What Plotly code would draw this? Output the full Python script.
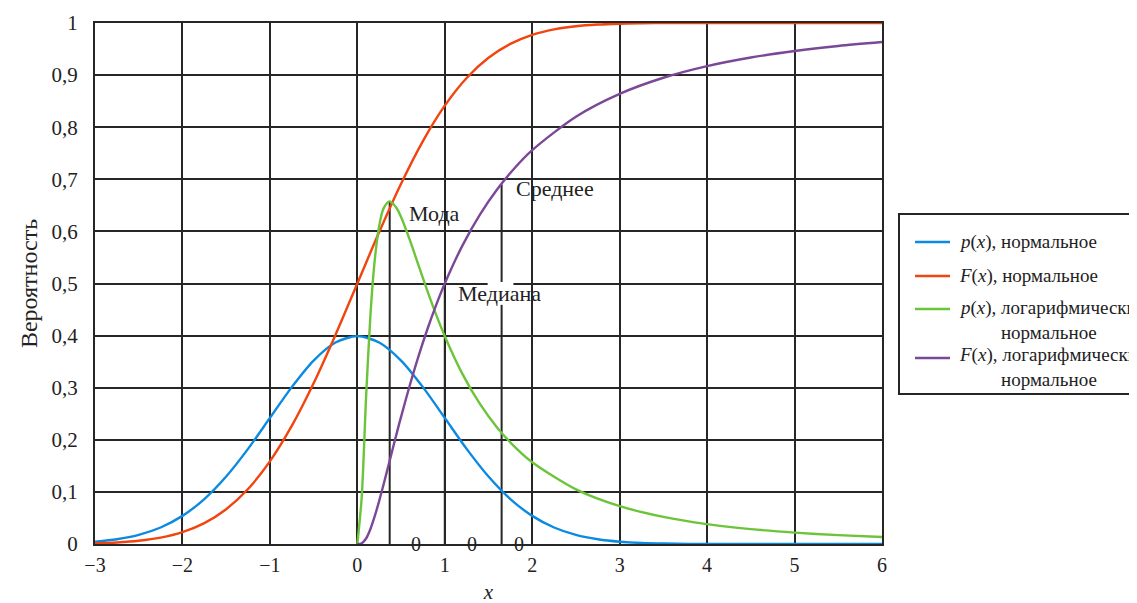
import plotly.graph_objects as go

# ---------- data ----------
norm_x = [-3, -2.75, -2.5, -2.25, -2, -1.75, -1.5, -1.25, -1, -0.75, -0.5, -0.25, 0,
          0.25, 0.5, 0.75, 1, 1.25, 1.5, 1.75, 2, 2.25, 2.5, 2.75, 3, 3.25, 3.5, 4, 5, 6]
norm_pdf = [0.0044, 0.0091, 0.0175, 0.0317, 0.0540, 0.0863, 0.1295, 0.1826, 0.2420, 0.3011,
            0.3521, 0.3867, 0.3989, 0.3867, 0.3521, 0.3011, 0.2420, 0.1826, 0.1295, 0.0863,
            0.0540, 0.0317, 0.0175, 0.0091, 0.0044, 0.0020, 0.0009, 0.0001, 0.0, 0.0]
norm_cdf = [0.0013, 0.0030, 0.0062, 0.0122, 0.0228, 0.0401, 0.0668, 0.1056, 0.1587, 0.2266,
            0.3085, 0.4013, 0.5, 0.5987, 0.6915, 0.7734, 0.8413, 0.8944, 0.9332, 0.9599,
            0.9772, 0.9878, 0.9938, 0.9970, 0.9987, 0.9994, 0.9998, 1.0, 1.0, 1.0]

logn_x = [0, 0.05, 0.1, 0.15, 0.2, 0.25, 0.3, 0.37, 0.45, 0.5, 0.6, 0.7, 0.8, 0.9, 1.0,
          1.2, 1.4, 1.6, 1.8, 2.0, 2.5, 3.0, 3.5, 4.0, 4.5, 5.0, 5.5, 6.0]
logn_pdf = [0.0, 0.0898, 0.2816, 0.4399, 0.5463, 0.6104, 0.6442, 0.6577, 0.6445, 0.6275,
            0.5836, 0.5348, 0.4864, 0.4408, 0.3989, 0.3270, 0.2693, 0.2233, 0.1865, 0.1569,
            0.1049, 0.0727, 0.0520, 0.0381, 0.0286, 0.0219, 0.0170, 0.0134]
logn_cdf = [0.0, 0.0014, 0.0106, 0.0289, 0.0538, 0.0829, 0.1143, 0.1601, 0.2123, 0.2441,
            0.3047, 0.3607, 0.4117, 0.4580, 0.5, 0.5723, 0.6318, 0.6808, 0.7217, 0.7559,
            0.8202, 0.8640, 0.8949, 0.9172, 0.9337, 0.9462, 0.9559, 0.9634]

# mode / median / mean markers of the log-normal curve
marker_names = ["Мода", "Медиана", "Среднее"]
marker_x = [0.37, 1.0, 1.65]
marker_top = [0.657, 0.5, 0.69]

y_ticks = [0, 0.1, 0.2, 0.3, 0.4, 0.5, 0.6, 0.7, 0.8, 0.9, 1]
y_ticktext = ["0", "0,1", "0,2", "0,3", "0,4", "0,5", "0,6", "0,7", "0,8", "0,9", "1"]
x_ticks = [-3, -2, -1, 0, 1, 2, 3, 4, 5, 6]
x_ticktext = ["\u22123", "\u22122", "\u22121", "0", "1", "2", "3", "4", "5", "6"]

zero_label_x = [0.675, 1.316, 1.853]

series_names = ["<i>p</i>(<i>x</i>), нормальное",
                "<i>F</i>(<i>x</i>), нормальное",
                "<i>p</i>(<i>x</i>), логарифмически<br>нормальное",
                "<i>F</i>(<i>x</i>), логарифмически<br>нормальное"]
colors = ["#0a8ae0", "#f2440e", "#6cc43a", "#7b4898"]

FONT = "Times New Roman, Liberation Serif, DejaVu Serif, serif"
GRID = "#262626"
TXT = "#222222"

fig = go.Figure()

# marker vertical lines
for mx, mt in zip(marker_x, marker_top):
    fig.add_trace(go.Scatter(x=[mx, mx], y=[0, mt], mode="lines",
                             line=dict(color=GRID, width=2), showlegend=False, hoverinfo="skip"))

series = [(norm_x, norm_pdf), (norm_x, norm_cdf), (logn_x, logn_pdf), (logn_x, logn_cdf)]
for (sx, sy), c, n in zip(series, colors, series_names):
    fig.add_trace(go.Scatter(x=sx, y=sy, mode="lines", name=n,
                             line=dict(color=c, width=2.4, shape="spline", smoothing=0.8),
                             showlegend=False))

shapes = []
# white gap where the median label sits
shapes.append(dict(type="rect", xref="x", yref="y", x0=1.49, x1=1.785, y0=0.459, y1=0.503,
                   fillcolor="white", line=dict(width=0), layer="above"))

# manual legend (paper coords, derived from pixel positions relative to the plot area)
def px_x(px):
    return (px - 95) / 787

def px_y(py):
    return (544 - py) / 521

shapes.append(dict(type="rect", xref="paper", yref="paper",
                   x0=px_x(899), x1=px_x(1170), y0=px_y(394), y1=px_y(214),
                   line=dict(color=GRID, width=2), fillcolor="white", layer="above"))
row_line_y = [242, 276, 309, 358]
row_text_y = [242, 276, 320, 367]
annotations = []
for c, n, ly, ty in zip(colors, series_names, row_line_y, row_text_y):
    shapes.append(dict(type="line", xref="paper", yref="paper",
                       x0=px_x(915), x1=px_x(950), y0=px_y(ly), y1=px_y(ly),
                       line=dict(color=c, width=2.5), layer="above"))
    annotations.append(dict(xref="paper", yref="paper", x=px_x(957), y=px_y(ty),
                            xanchor="left", yanchor="middle", align="center",
                            text=n, showarrow=False,
                            font=dict(family=FONT, size=19, color=TXT)))

# marker labels
label_pos = [(0.572, 0.635), (1.133, 0.48), (1.796, 0.683)]
for name, (lx, ly) in zip(marker_names, label_pos):
    annotations.append(dict(x=lx, y=ly, xref="x", yref="y", text=name, showarrow=False,
                            xanchor="left", yanchor="middle",
                            font=dict(family=FONT, size=22, color=TXT)))
for zx in zero_label_x:
    annotations.append(dict(x=zx, y=0, xref="x", yref="y", text="0", showarrow=False,
                            xanchor="center", yanchor="middle",
                            font=dict(family=FONT, size=20, color=TXT)))

fig.update_layout(
    width=1137, height=603,
    margin=dict(l=87, r=263, t=15, b=67, autoexpand=False),
    paper_bgcolor="white", plot_bgcolor="white",
    font=dict(family=FONT, size=20, color=TXT),
    shapes=shapes, annotations=annotations,
    showlegend=False,
    xaxis=dict(range=[-3, 6], tickvals=x_ticks, ticktext=x_ticktext,
               showgrid=True, gridcolor=GRID, gridwidth=2, zeroline=False,
               showline=True, linecolor=GRID, linewidth=2, mirror=True,
               ticks="", ticklabelstandoff=2,
               tickfont=dict(family=FONT, size=20, color=TXT),
               title=dict(text="<i>x</i>", standoff=9, font=dict(family=FONT, size=21, color=TXT))),
    yaxis=dict(range=[0, 1], tickvals=y_ticks, ticktext=y_ticktext,
               showgrid=True, gridcolor=GRID, gridwidth=2, zeroline=False,
               showline=True, linecolor=GRID, linewidth=2, mirror=True,
               ticks="", ticklabelstandoff=11,
               tickfont=dict(family=FONT, size=21, color=TXT),
               title=dict(text="Вероятность", standoff=7, font=dict(family=FONT, size=24, color=TXT))),
)

fig.write_html("out.html")
